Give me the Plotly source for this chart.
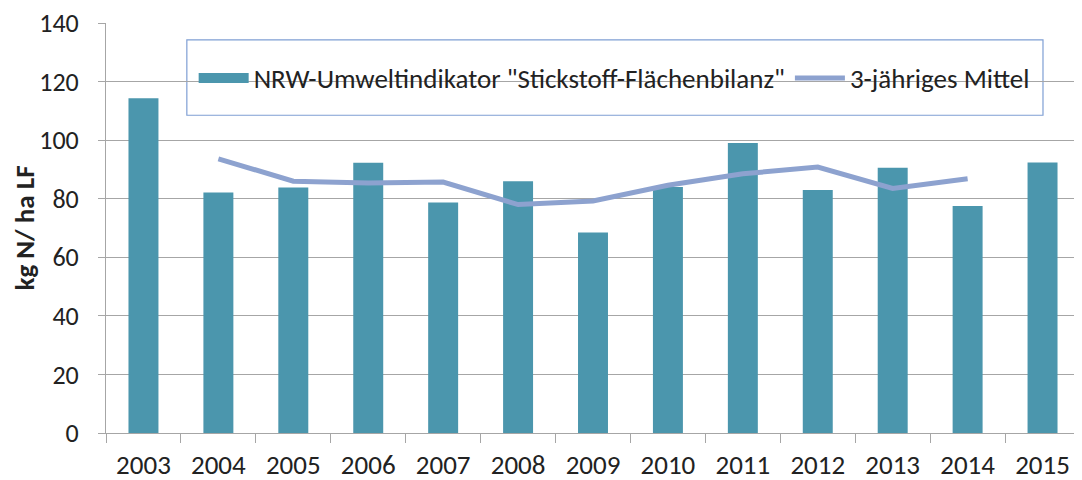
import plotly.graph_objects as go

# Daten
jahre = ["2003", "2004", "2005", "2006", "2007", "2008", "2009",
         "2010", "2011", "2012", "2013", "2014", "2015"]
bilanz = [114.3, 82.1, 83.8, 92.3, 78.7, 86.0, 68.5,
          84.0, 99.0, 83.0, 90.6, 77.5, 92.4]
mittel_jahre = jahre[1:12]
mittel = [93.6, 86.0, 85.4, 85.7, 78.0, 79.2, 84.6, 88.5, 90.8, 83.5, 86.8]

bar_col = "#4B96AD"
line_col = "#8DA2CF"
grid_col = "#A6A6A6"
name_bar = 'NRW-Umweltindikator "Stickstoff-Flächenbilanz"'

fig = go.Figure()
fig.add_trace(go.Bar(
    x=jahre, y=bilanz, width=0.4,
    marker=dict(color=bar_col, line=dict(width=0)),
    name=name_bar, showlegend=False
))
# nur fuer die Legende: breites Rechteck statt kleinem Quadrat
fig.add_trace(go.Scatter(
    x=[None], y=[None], mode="lines",
    line=dict(color=bar_col, width=12),
    name=name_bar
))
fig.add_trace(go.Scatter(
    x=mittel_jahre, y=mittel, mode="lines",
    line=dict(color=line_col, width=5),
    name="3-jähriges Mittel"
))

# Legendenrahmen
fig.add_shape(type="rect", xref="paper", yref="paper",
              x0=0.083, x1=0.962, y0=0.775, y1=0.959,
              fillcolor="white", line=dict(color="#7F9FD4", width=1.2),
              layer="between")

# page body adds 8px margin -> margins shifted accordingly
fig.update_layout(
    width=1082, height=480,
    margin=dict(l=98, r=10, t=15, b=55),
    plot_bgcolor="white", paper_bgcolor="white",
    font=dict(family="Carlito, Liberation Sans, Arial, sans-serif", color="#222222"),
    showlegend=True,
    legend=dict(orientation="h", x=0.09, xanchor="left", y=0.865, yanchor="middle",
                bgcolor="rgba(0,0,0,0)", borderwidth=0,
                font=dict(size=27, color="#222222"),
                itemwidth=50),
)
fig.update_xaxes(
    type="category", showgrid=False, showline=True, linecolor=grid_col, linewidth=1,
    ticks="outside", tickson="boundaries", ticklen=9, tickcolor=grid_col,
    tickfont=dict(size=27), ticklabelstandoff=8, fixedrange=True, automargin=False,
)
fig.update_yaxes(
    range=[0, 140], dtick=20, showgrid=True, gridcolor=grid_col, gridwidth=1,
    showline=True, linecolor=grid_col, linewidth=1, zeroline=False,
    ticks="outside", ticklen=7, tickcolor=grid_col, tickfont=dict(size=26),
    ticklabelstandoff=14, ticklabeloverflow="allow", automargin=False,
    title=dict(text="<b>kg N/ ha LF</b>", font=dict(size=27), standoff=8),
)

fig.write_html("out.html")
